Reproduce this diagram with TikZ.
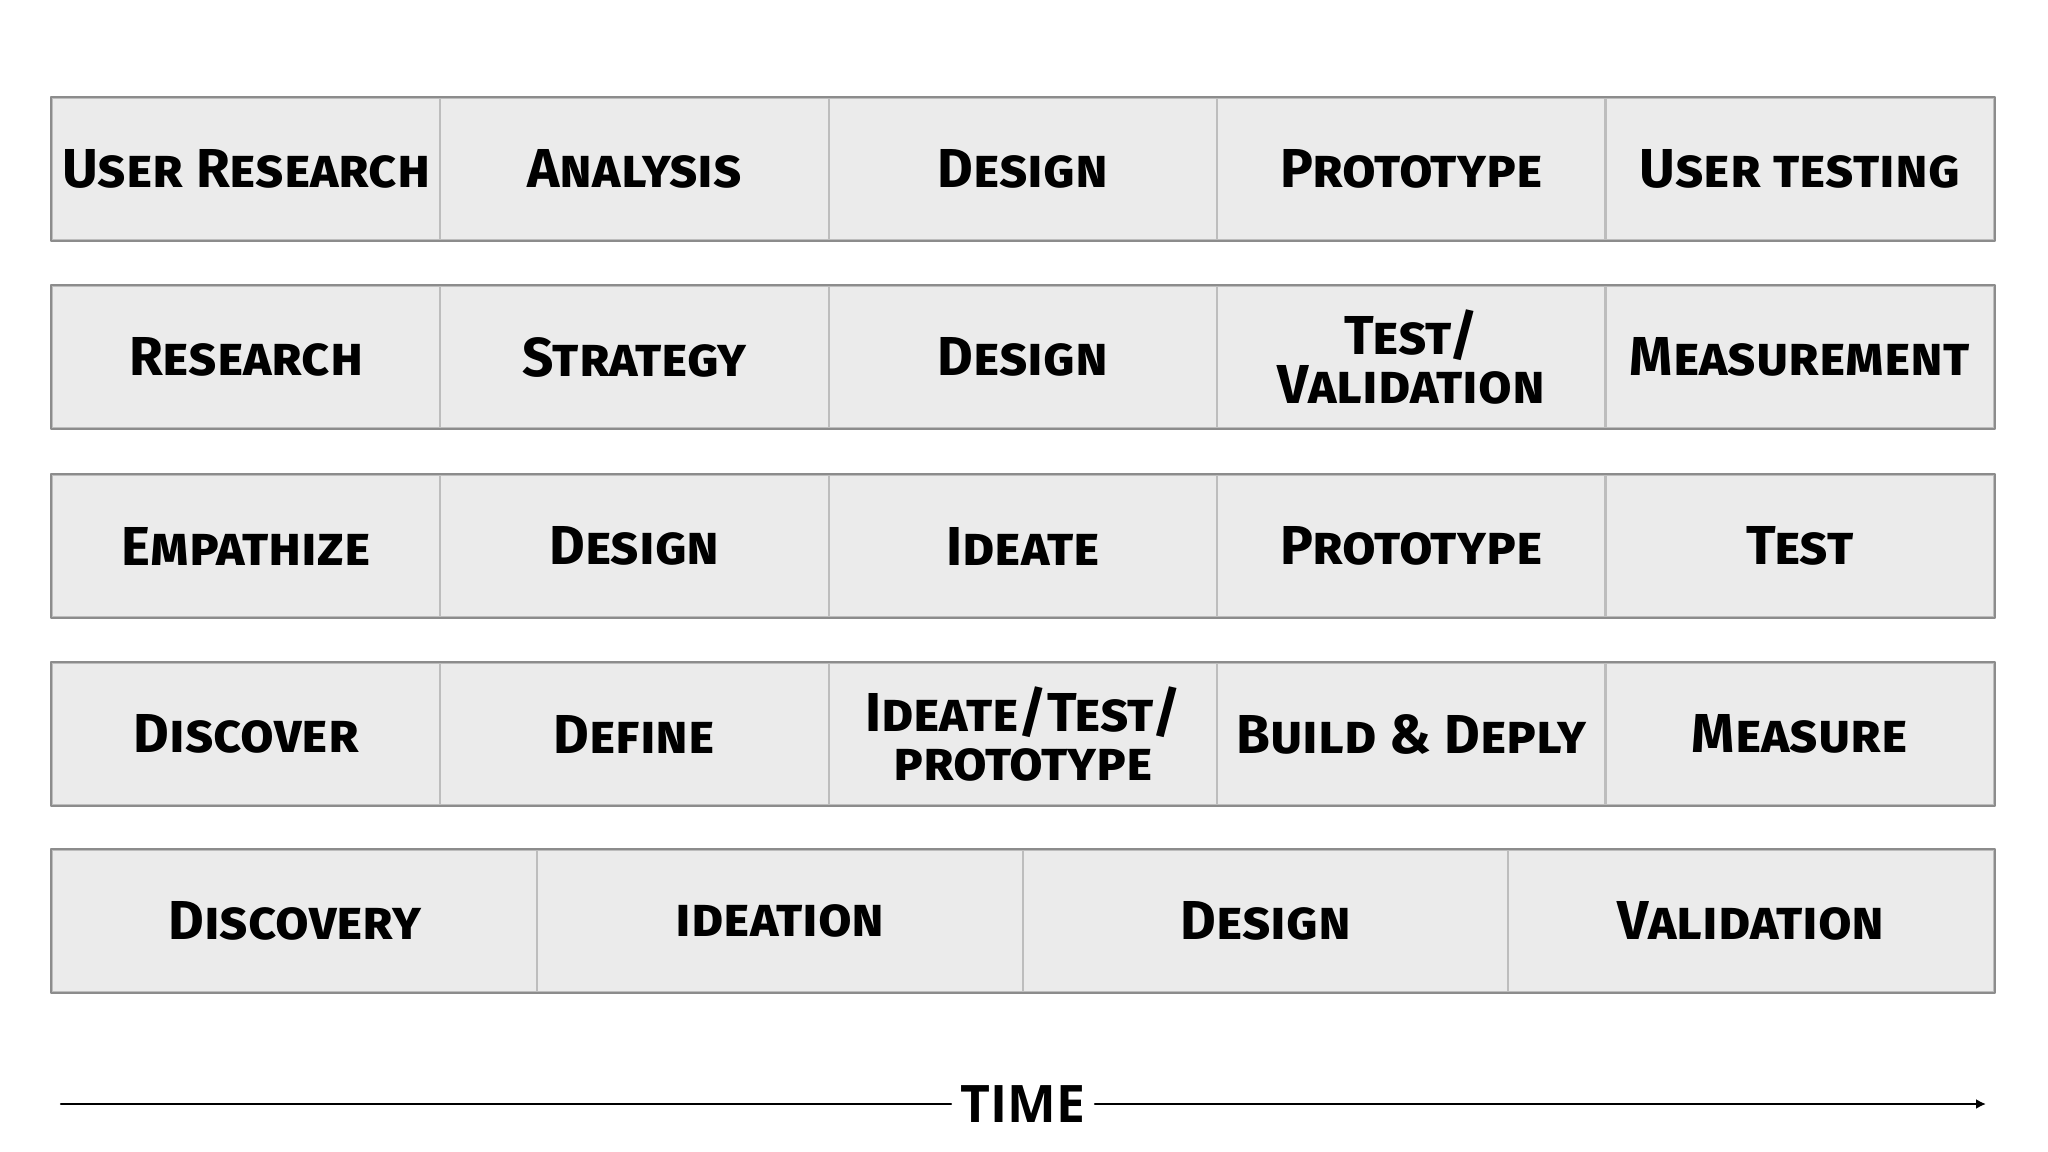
\documentclass[tikz,border=0pt]{standalone}
\usepackage{fontspec}
\setmainfont{Fira Sans}
\newfontfamily\timefont{Open Sans}
\usetikzlibrary{arrows.meta}
\definecolor{cellgray}{HTML}{EBEBEB}
\definecolor{linegray}{HTML}{BDBDBD}
\definecolor{edgegray}{HTML}{8C8C8C}
\tikzset{
  cell/.style={fill=cellgray,draw=linegray,line width=0.6pt,minimum height=1.42cm,
    inner sep=0pt,align=center,font=\fontsize{15.6}{14.2}\selectfont\bfseries\scshape},
  rowedge/.style={draw=edgegray,line width=0.7pt}
}
\begin{document}
\begin{tikzpicture}[x=0.01cm,y=-0.01cm,line cap=round,line join=round]
\useasboundingbox (0,0) rectangle (2048,1152);

\foreach \t [count=\i] in {User Research,Analysis,Design,Prototype,User testing}
  \node[cell,minimum width=3.884cm] (a\i) at ({52+388.4*(\i-0.5)},169) {\t};
\foreach \t [count=\i] in {Research,Strategy,Design,{Test/\\Validation},Measurement}
  \node[cell,minimum width=3.884cm] (b\i) at ({52+388.4*(\i-0.5)},357) {\t};
\foreach \t [count=\i] in {Empathize,Design,Ideate,Prototype,Test}
  \node[cell,minimum width=3.884cm] (c\i) at ({52+388.4*(\i-0.5)},546) {\t};
\foreach \t [count=\i] in {Discover,Define,{Ideate/Test/\\prototype},Build \& Deply,Measure}
  \node[cell,minimum width=3.884cm] (d\i) at ({52+388.4*(\i-0.5)},734) {\t};
\foreach \t [count=\i] in {Discovery,ideation,Design,Validation}
  \node[cell,minimum width=4.855cm] (e\i) at ({52+485.5*(\i-0.5)},921) {\t};

\draw[rowedge] (a1.north west) rectangle (a5.south east);
\draw[rowedge] (b1.north west) rectangle (b5.south east);
\draw[rowedge] (c1.north west) rectangle (c5.south east);
\draw[rowedge] (d1.north west) rectangle (d5.south east);
\draw[rowedge] (e1.north west) rectangle (e4.south east);

% time axis
\node[font=\timefont\bfseries\fontsize{14.7}{15}\selectfont,inner xsep=2.5pt] (time) at (1023,1104) {TIME};
\coordinate (tstart) at (61,1104);
\coordinate (tend) at (1986,1104);
\draw[line width=0.6pt] (tstart) -- (time);
\draw[line width=0.6pt,-{Latex[length=0.1cm,width=0.1cm]}] (time) -- (tend);
\end{tikzpicture}
\end{document}
